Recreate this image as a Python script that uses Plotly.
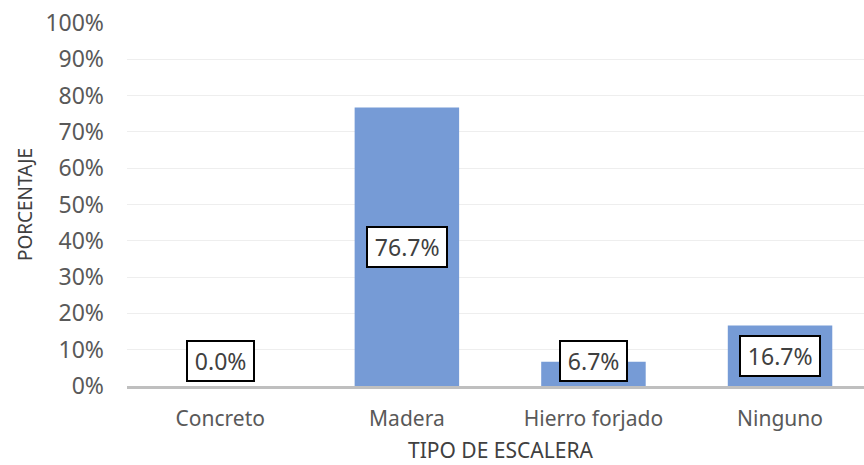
import plotly.graph_objects as go

categories = ["Concreto", "Madera", "Hierro forjado", "Ninguno"]
values = [0.0, 76.7, 6.7, 16.7]
y_ticks = list(range(0, 101, 10))
y_tick_labels = [f"{t}%" for t in y_ticks]

bar_color = "#769bd6"
font_family = "Noto Sans, Open Sans, sans-serif"

fig = go.Figure()
fig.add_trace(go.Bar(
    x=categories, y=values, marker=dict(color=bar_color, line=dict(width=0)),
    width=0.56, hoverinfo="skip",
))

for c, v in zip(categories, values):
    fig.add_annotation(
        x=c, y=max(v / 2, 7.0), text=f"\u2009{v:.1f}%\u2009", showarrow=False,
        font=dict(size=23, color="#404040", family=font_family),
        bgcolor="white", bordercolor="black", borderwidth=2, borderpad=3,
    )

# x-axis title centred under the full category band
fig.add_annotation(
    x=1.5, xref="x", y=0, yref="paper", yanchor="middle", yshift=-64,
    text="TIPO DE ESCALERA", showarrow=False,
    font=dict(size=21, color="#404040", family=font_family),
)

fig.update_layout(
    width=864, height=465,
    margin=dict(l=127, r=0, t=23, b=79, autoexpand=False),
    plot_bgcolor="white", paper_bgcolor="white",
    showlegend=False,
    font=dict(family=font_family, color="#595959"),
    xaxis=dict(
        range=[-0.5, 3.45], showgrid=False, showline=True, linecolor="#bfbfbf",
        linewidth=2.5, ticks="", tickfont=dict(size=21, color="#595959"),
        ticklabelstandoff=12, automargin=False,
    ),
    yaxis=dict(
        range=[0, 100], tickvals=y_ticks, ticktext=y_tick_labels,
        showgrid=True, gridcolor="#eeeeee", gridwidth=1, zeroline=False,
        showline=False, ticks="", tickfont=dict(size=23, color="#595959"),
        ticklabelstandoff=22, automargin=False,
        title=dict(text="PORCENTAJE", font=dict(size=19, color="#404040"), standoff=7),
    ),
)

fig.write_html(
    "out.html",
    config={"displayModeBar": False},
    post_script="document.body.style.margin='0';document.body.style.overflow='hidden';",
)
